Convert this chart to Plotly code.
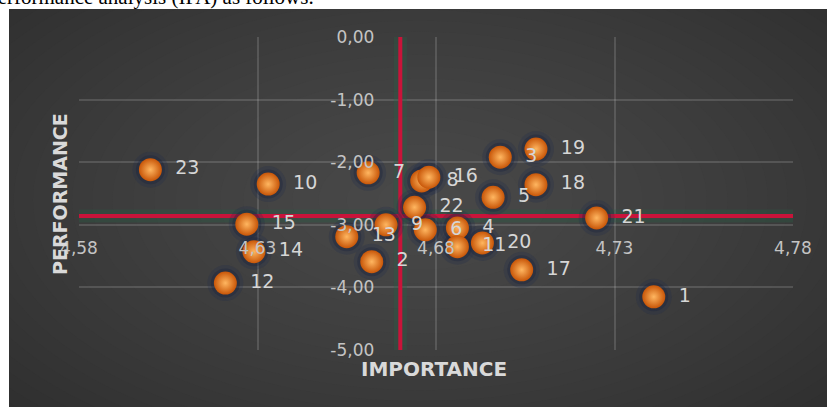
import plotly.graph_objects as go

# ---------------- data ----------------
labels = [str(i) for i in range(1, 24)]
importance = [4.741, 4.662, 4.698, 4.686, 4.696, 4.677, 4.661, 4.676, 4.666, 4.633,
              4.686, 4.621, 4.655, 4.629, 4.627, 4.678, 4.704, 4.708, 4.708, 4.693,
              4.725, 4.674, 4.600]
performance = [-4.15, -3.59, -1.92, -3.05, -2.56, -3.08, -2.17, -2.30, -3.00, -2.35,
               -3.35, -3.93, -3.19, -3.43, -2.99, -2.24, -3.72, -2.36, -1.79, -3.29,
               -2.89, -2.72, -2.12]
x_ticks = [4.58, 4.63, 4.68, 4.73, 4.78]
x_tick_labels = ["4,58", "4,63", "4,68", "4,73", "4,78"]
y_ticks = [0, -1, -2, -3, -4, -5]
y_tick_labels = ["0,00", "-1,00", "-2,00", "-3,00", "-4,00", "-5,00"]
importance_mean = 4.67
performance_mean = -2.86
y_axis_crosses_x = 4.67
x_axis_crosses_y = -3.0
x_range = [4.58, 4.78]
y_range = [-5.0, 0.0]

# ---------------- layout geometry ----------------
W, H = 827, 407
L, R, T, B = 79, 34, 37, 57
PW, PH = W - L - R, H - T - B


def px_x(px):
    return (px - L) / PW


def px_y(py):
    return (H - B - py) / PH


fig = go.Figure()

# red reference lines (means) with faint glow band
for col, wd in [("rgba(40,95,70,0.35)", 13), ("#C8143A", 4)]:
    fig.add_trace(go.Scatter(x=x_range, y=[performance_mean, performance_mean], mode="lines",
                             line=dict(color=col, width=wd), hoverinfo="skip", showlegend=False))
    fig.add_trace(go.Scatter(x=[importance_mean, importance_mean], y=y_range, mode="lines",
                             line=dict(color=col, width=wd), hoverinfo="skip", showlegend=False))

# halo under the spheres
fig.add_trace(go.Scatter(x=importance, y=performance, mode="markers",
                         marker=dict(size=36, color="rgba(30,45,75,0.25)", line=dict(width=0)),
                         hoverinfo="skip", showlegend=False, cliponaxis=False))
fig.add_trace(go.Scatter(x=importance, y=performance, mode="markers",
                         marker=dict(size=29, color="rgba(25,35,60,0.35)", line=dict(width=0)),
                         hoverinfo="skip", showlegend=False, cliponaxis=False))

# orange spheres with labels
fig.add_trace(go.Scatter(
    x=importance, y=performance, mode="markers+text",
    text=["\u2002" + s for s in labels], textposition="middle right",
    textfont=dict(family="DejaVu Sans", size=19, color="#D6D6D6"),
    marker=dict(size=23, color="#C85608", line=dict(width=0),
                gradient=dict(type="radial", color="#FFB660")),
    showlegend=False, cliponaxis=False))

# ---------------- background (dark chart area with vignette) ----------------
edge_gray, center_gray = 42, 72
shapes = [dict(type="rect", xref="paper", yref="paper", layer="below",
               x0=px_x(9), x1=px_x(W + 5), y0=px_y(H + 5), y1=px_y(9),
               fillcolor="rgb(%d,%d,%d)" % (edge_gray, edge_gray, edge_gray), line=dict(width=0))]
cx, cy = 420, 200
N = center_gray - edge_gray
for k in range(1, N + 1):
    f = 1 - (k - 1) / N
    rx = 640 * f ** 0.8
    ry = 350 * f ** 0.8
    g = edge_gray + k
    shapes.append(dict(type="circle", xref="paper", yref="paper", layer="below",
                       x0=px_x(cx - rx), x1=px_x(cx + rx), y0=px_y(cy + ry), y1=px_y(cy - ry),
                       fillcolor="rgb(%d,%d,%d)" % (g, g, g), line=dict(width=0)))
# white masks outside the chart image
shapes.append(dict(type="rect", xref="paper", yref="paper", layer="below",
                   x0=px_x(-50), x1=px_x(9), y0=px_y(H + 50), y1=px_y(-50),
                   fillcolor="white", line=dict(width=0)))
shapes.append(dict(type="rect", xref="paper", yref="paper", layer="below",
                   x0=px_x(-50), x1=px_x(W + 50), y0=px_y(9), y1=px_y(-50),
                   fillcolor="white", line=dict(width=0)))

annotations = [
    dict(text="PERFORMANCE", xref="paper", yref="paper", x=px_x(60), y=px_y(194),
         textangle=-90, showarrow=False, xanchor="center", yanchor="middle",
         font=dict(family="DejaVu Sans", size=19, color="#D9D9D9", weight="bold")),
    dict(text="IMPORTANCE", xref="paper", yref="paper", x=px_x(434), y=px_y(369),
         showarrow=False, xanchor="center", yanchor="middle",
         font=dict(family="DejaVu Sans", size=20, color="#D9D9D9", weight="bold")),
    dict(text="Performance analysis (IPA) as follows:", xref="paper", yref="paper",
         x=px_x(316), y=px_y(-3), showarrow=False, xanchor="right", yanchor="middle",
         font=dict(family="Liberation Serif", size=21, color="black")),
]

grid = "rgba(210,210,210,0.18)"
fig.update_layout(
    width=W, height=H,
    margin=dict(l=L, r=R, t=T, b=B, autoexpand=False),
    paper_bgcolor="white", plot_bgcolor="rgba(0,0,0,0)",
    shapes=shapes, annotations=annotations,
    xaxis=dict(range=x_range, tickvals=x_ticks, ticktext=x_tick_labels,
               showgrid=True, gridcolor=grid, gridwidth=1.5, zeroline=False, showline=False,
               anchor="free",
               position=(x_axis_crosses_y - y_range[0]) / (y_range[1] - y_range[0]),
               ticks="", ticklabelstandoff=11, automargin=False,
               tickfont=dict(family="DejaVu Sans", size=17, color="#C4C4C4")),
    yaxis=dict(range=y_range, tickvals=y_ticks, ticktext=y_tick_labels,
               showgrid=True, gridcolor=grid, gridwidth=1.5, zeroline=False, showline=False,
               anchor="free",
               position=(y_axis_crosses_x - x_range[0]) / (x_range[1] - x_range[0]),
               ticks="", ticklabelstandoff=26, automargin=False,
               tickfont=dict(family="DejaVu Sans", size=17, color="#C4C4C4")),
)

fig.write_html("out.html")
